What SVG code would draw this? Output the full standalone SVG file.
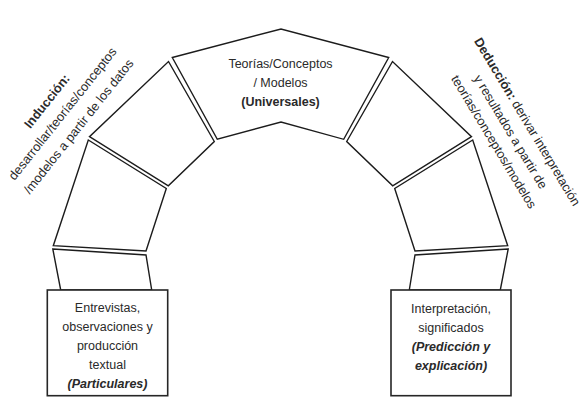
<svg xmlns="http://www.w3.org/2000/svg" width="585" height="420" viewBox="0 0 585 420">
<style>
 .blk{fill:#fff;stroke:#1c1c1c;stroke-width:1.4;stroke-linejoin:miter}
 .box{fill:#fff;stroke:#262626;stroke-width:1.6}
 text{font-family:"Liberation Sans",Arial,sans-serif;fill:#2a2a2a;font-size:12.5px;text-anchor:middle}
 .rot{font-size:12.8px}
 .b{font-weight:bold}
 .bi{font-weight:bold;font-style:italic}
</style>
<rect width="585" height="420" fill="#fff"/>
<g id="arch-top">
 <polygon class="blk" points="172.3,57.5 281,29 388.7,57.5 343.7,139.3 281,122 217.3,139.3"/>
 <text x="280.5" y="68">Teorías/Conceptos</text>
 <text x="280.5" y="87">/ Modelos</text>
 <text x="280.5" y="106" class="b">(Universales)</text>
</g>
<g id="arch-left-2"><polygon class="blk" points="168.5,61.5 214.3,141.5 168.3,185.8 89.5,136.7"/></g>
<g id="arch-right-2"><polygon class="blk" points="392.5,61.5 346.7,141.5 392.7,185.8 471.5,136.7"/></g>
<g id="arch-left-3"><polygon class="blk" points="88.3,140 166.3,188.5 146,251 53.3,245.7"/></g>
<g id="arch-right-3"><polygon class="blk" points="472.7,140 394.7,188.5 415,251 507.7,245.7"/></g>
<g id="arch-left-4"><polygon class="blk" points="52.8,249 146,255 151.7,290 60.7,290"/></g>
<g id="arch-right-4"><polygon class="blk" points="508.2,249 415,255 409.3,290 500.3,290"/></g>
<g id="box-particulares">
 <rect class="box" x="47.3" y="290" width="120.4" height="105.7"/>
 <text x="107.5" y="312">Entrevistas,</text>
 <text x="107.5" y="331">observaciones y</text>
 <text x="107.5" y="350">producción</text>
 <text x="107.5" y="369">textual</text>
 <text x="107.5" y="388" class="bi">(Particulares)</text>
</g>
<g id="box-prediccion">
 <rect class="box" x="391" y="290" width="120" height="105.7"/>
 <text x="451" y="313">Interpretación,</text>
 <text x="451" y="332">significados</text>
 <text x="451" y="351" class="bi">(Predicción y</text>
 <text x="451" y="370" class="bi">explicación)</text>
</g>
<g id="label-induccion" transform="translate(62.4,113.6) rotate(-51.5)">
 <text class="rot b" x="0" y="-15.5">Inducción:</text>
 <text class="rot" x="0" y="4.5">desarrollar/teorías/conceptos</text>
 <text class="rot" x="0" y="25">/modelos a partir de los datos</text>
</g>
<g id="label-deduccion" transform="translate(510.7,131.7) rotate(59)">
 <text class="rot" x="0" y="-15"><tspan class="b">Deducción:</tspan> derivar interpretación</text>
 <text class="rot" x="0" y="4.5">y resultados a partir de</text>
 <text class="rot" x="0" y="24">teorías/conceptos/modelos</text>
</g>
<g id="connectors"/>
</svg>
